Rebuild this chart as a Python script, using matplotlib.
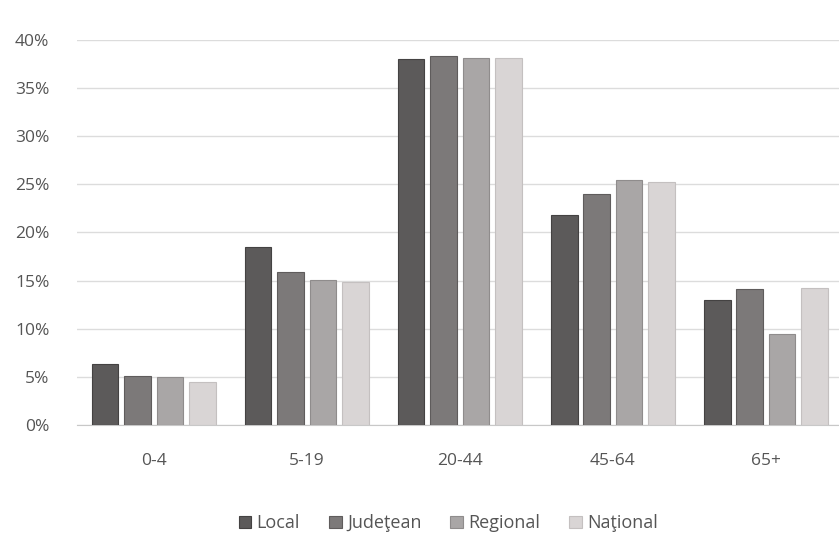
import numpy as np
import matplotlib.pyplot as plt
from matplotlib.ticker import PercentFormatter

# age groups and shares (%) per level
categories = ['0-4', '5-19', '20-44', '45-64', '65+']
series = ['Local', 'Judeţean', 'Regional', 'Naţional']
local = [6.3, 18.5, 38.0, 21.8, 13.0]
judetean = [5.1, 15.9, 38.3, 24.0, 14.1]
regional = [4.95, 15.1, 38.1, 25.4, 9.5]
national = [4.5, 14.9, 38.1, 25.2, 14.2]
values = [local, judetean, regional, national]

colors = ['#5c5a5a', '#7c7979', '#a9a6a6', '#d9d5d5']
edges = ['#444242', '#5f5c5c', '#8f8c8c', '#c4c0c0']

plt.rcParams['font.family'] = ['Open Sans', 'DejaVu Sans']

fig = plt.figure(figsize=(8.39, 5.38), dpi=100)
ax = fig.add_axes([0.092, 0.21, 0.912, 0.716])

x = np.arange(len(categories))
step = 0.212
width = 0.175
for i, (name, vals) in enumerate(zip(series, values)):
    ax.bar(x + (i - 1.5) * step, vals, width, color=colors[i],
           edgecolor=edges[i], linewidth=0.8, label=name, zorder=3)

ax.set_xlim(-0.5, len(categories) - 0.5)
ax.set_ylim(0, 40)
ax.set_yticks(np.arange(0, 41, 5))
ax.yaxis.set_major_formatter(PercentFormatter(decimals=0))
ax.set_xticks(x)
ax.set_xticklabels(categories)
ax.grid(axis='y', color='#dcdcdc', linewidth=1, zorder=0)
for s in ['top', 'right', 'left']:
    ax.spines[s].set_visible(False)
ax.spines['bottom'].set_color('#c8c8c8')
ax.tick_params(axis='both', length=0, labelsize=12.5, colors='#555555')
ax.tick_params(axis='y', pad=20)
ax.tick_params(axis='x', pad=20)

ax.legend(loc='upper center', bbox_to_anchor=(0.485, -0.19), ncol=4,
          frameon=False, fontsize=13, handlelength=0.7, handleheight=0.7,
          handletextpad=0.3, columnspacing=1.6, labelcolor='#555555')

fig.savefig('out.png', dpi=100)
